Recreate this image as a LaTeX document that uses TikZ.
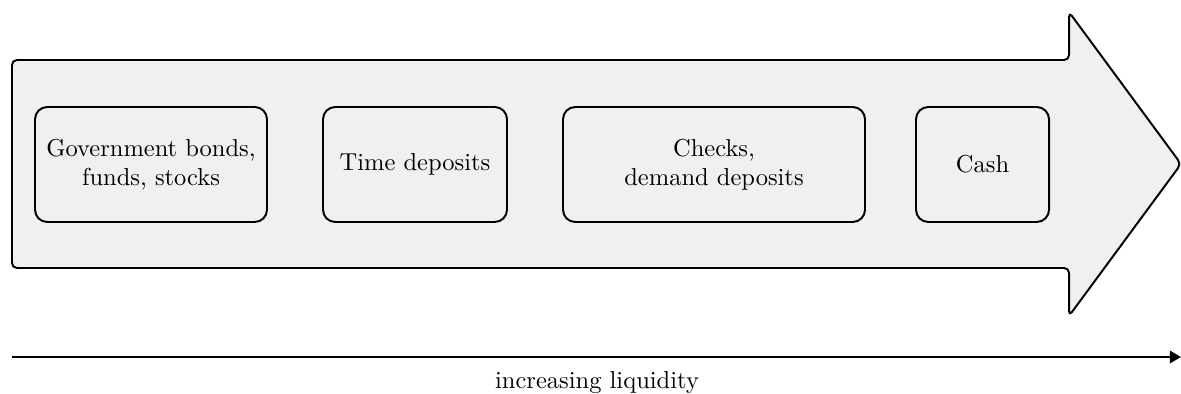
\documentclass[tikz,border=0pt]{standalone}
\usetikzlibrary{arrows.meta}
\begin{document}
\begin{tikzpicture}[x=0.408pt,y=-0.408pt,
  bigarrow/.style={draw=black,fill=black!6,line width=0.8pt,rounded corners=2pt,line join=round},
  item/.style={draw=black,line width=0.8pt,rounded corners=5pt,align=center,inner sep=0pt,font=\normalsize},
  axis/.style={line width=0.8pt,-{Triangle[length=4.5pt,width=5pt]}}]
\useasboundingbox (0,0) rectangle (1181,394);
\draw[bigarrow] (12,60) -- (1069,60) -- (1069,12) -- (1181,164) -- (1069,316) -- (1069,268) -- (12,268) -- cycle;
\node[item,minimum width=232*0.408pt,minimum height=115*0.408pt] (a) at (151,164.5) {Government bonds,\\funds, stocks};
\node[item,minimum width=184*0.408pt,minimum height=115*0.408pt] (b) at (415,164.5) {Time deposits};
\node[item,minimum width=302*0.408pt,minimum height=115*0.408pt] (c) at (714,164.5) {Checks,\\demand deposits};
\node[item,minimum width=133*0.408pt,minimum height=115*0.408pt] (d) at (982.5,164.5) {Cash};
\coordinate (s) at (12,357);
\coordinate (e) at (1181,357);
\draw[axis] (s) -- (e);
\node (lbl) at (597,383) {increasing liquidity};
\end{tikzpicture}
\end{document}
